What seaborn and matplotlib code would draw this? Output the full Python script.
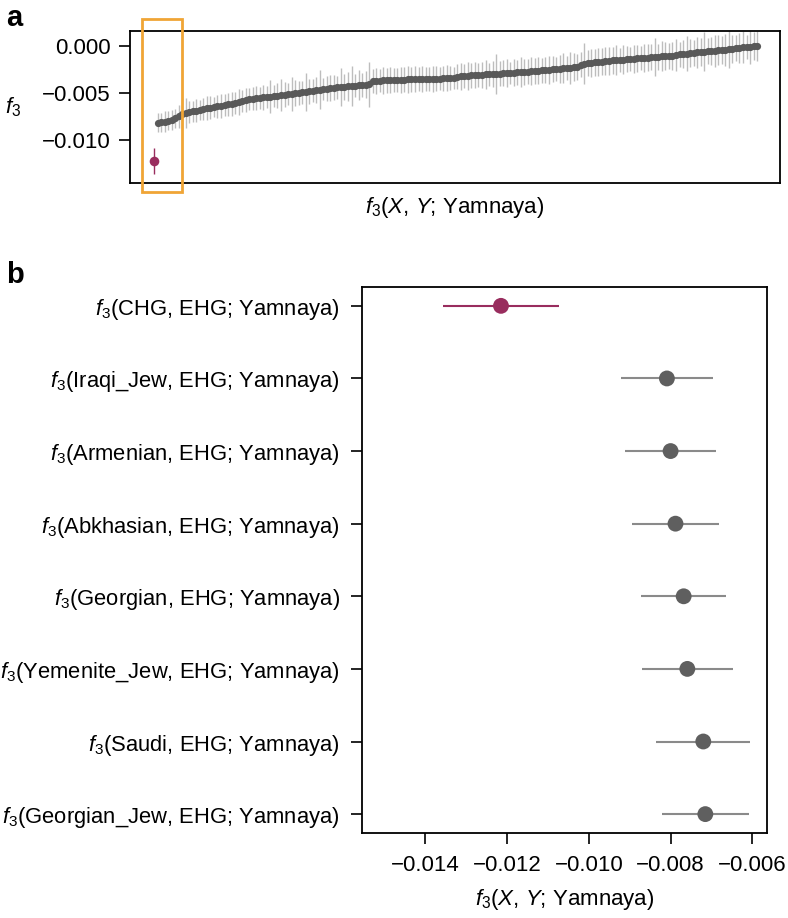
import matplotlib
matplotlib.use('Agg')
import matplotlib.pyplot as plt
import matplotlib.patches as mpatches
import seaborn as sns
import pandas as pd
import numpy as np

# panel a: sorted f3 statistics (values in units of 1e-4)
f3_chg = -122.0
f3_chg_err = 14.0
f3_others = [
    -81.6, -81.0, -80.4, -79.6, -78.8, -76.8, -75.0, -72.0, -71.0, -70.4,
    -69.6, -68.9, -68.0, -67.0, -66.0, -65.5, -64.8, -64.2, -63.6, -62.9,
    -62.2, -61.6, -60.8, -59.6, -58.4, -57.2, -56.6, -56.1, -55.6, -55.2,
    -54.7, -54.2, -53.8, -53.2, -52.8, -52.3, -51.8, -51.3, -50.8, -50.3,
    -49.8, -49.4, -48.8, -48.2, -47.6, -47.0, -46.4, -45.9, -45.3, -44.8,
    -44.3, -44.0, -43.7, -43.3, -43.0, -42.6, -42.3, -41.9, -41.5, -41.1,
    -40.8, -37.0, -36.9, -36.8, -36.6, -36.5, -36.3, -36.2, -36.0, -35.9,
    -35.8, -35.6, -35.5, -35.4, -35.3, -35.2, -35.1, -35.0, -34.9, -34.8,
    -34.6, -34.5, -34.3, -34.1, -33.9, -32.6, -32.3, -32.0, -31.7, -31.4,
    -31.1, -30.8, -30.6, -30.3, -30.1, -29.8, -29.6, -29.3, -29.1, -28.8,
    -28.6, -28.3, -28.1, -27.8, -27.6, -27.3, -26.9, -26.6, -26.2, -25.9,
    -25.5, -25.2, -24.8, -24.5, -24.1, -23.8, -23.4, -23.0, -22.6, -22.2,
    -19.8, -18.7, -18.3, -17.9, -17.5, -17.1, -16.6, -16.1, -15.6, -15.3,
    -15.0, -14.7, -14.4, -14.1, -13.8, -13.5, -13.2, -12.9, -12.6, -12.3,
    -12.0, -11.7, -11.4, -11.1, -10.8, -10.5, -10.3, -9.3, -8.9, -8.5,
    -8.1, -7.7, -7.3, -6.9, -6.5, -6.1, -5.7, -5.3, -4.9, -4.6,
    -4.2, -3.8, -3.4, -3.0, -2.5, -2.0, -1.5, -1.0, -0.6, -0.3,
    0.0,
]
f3_others_err = [
    10, 10, 11, 10, 11, 10, 12, 17, 16, 12,
    11, 12, 11, 12, 13, 12, 11, 12, 13, 12,
    12, 13, 12, 14, 12, 13, 12, 12, 13, 12,
    13, 12, 18, 12, 13, 17, 13, 12, 18, 14,
    13, 12, 20, 13, 12, 14, 21, 12, 13, 14,
    13, 12, 20, 14, 15, 21, 12, 16, 13, 14,
    24, 13, 14, 12, 14, 13, 14, 13, 13, 14,
    13, 14, 13, 14, 13, 14, 13, 13, 14, 13,
    12, 13, 14, 13, 12, 13, 14, 13, 15, 13,
    14, 13, 14, 15, 12, 14, 21, 13, 14, 15,
    12, 14, 13, 16, 14, 13, 15, 14, 14, 13,
    14, 15, 14, 13, 15, 16, 13, 17, 15, 14,
    13, 22, 14, 15, 14, 15, 14, 15, 15, 14,
    16, 13, 15, 14, 13, 15, 14, 13, 15, 14,
    14, 20, 14, 16, 15, 14, 15, 17, 13, 15,
    19, 15, 14, 16, 15, 21, 14, 15, 17, 16,
    15, 17, 20, 15, 14, 16, 17, 13, 19, 15,
    16,
]

# panel b: top statistics
populations = ['CHG', 'Iraqi_Jew', 'Armenian', 'Abkhasian', 'Georgian',
               'Yemenite_Jew', 'Saudi', 'Georgian_Jew']
f3_top = [-0.01215, -0.00809, -0.00800, -0.00788, -0.00768, -0.00759, -0.00720, -0.00715]
f3_top_err = [0.00142, 0.00112, 0.00111, 0.00107, 0.00104, 0.00112, 0.00115, 0.00106]

PINK = '#992d5e'
DARK = '#595959'
ORANGE = '#f0a535'

sns.set_style('white')
plt.rcParams['font.family'] = ['Liberation Sans', 'DejaVu Sans']
plt.rcParams['mathtext.fontset'] = 'custom'
plt.rcParams['mathtext.rm'] = 'Liberation Sans'
plt.rcParams['mathtext.it'] = 'Liberation Sans:italic'
for k in ['text.color', 'axes.labelcolor', 'xtick.color', 'ytick.color']:
    plt.rcParams[k] = 'black'

fig = plt.figure(figsize=(7.88, 9.18), dpi=100)

xlab = r'$f_3$($X$, $Y$; Yamnaya)'

# ---- panel a
ax1 = fig.add_axes([0.165, 0.8007, 0.8249, 0.1656])
scale = 1e-4
df_a = pd.DataFrame({
    'rank': np.arange(1, len(f3_others) + 1),
    'f3': np.array(f3_others) * scale,
    'err': np.array(f3_others_err) * scale,
})
ax1.errorbar(df_a['rank'], df_a['f3'], yerr=df_a['err'], fmt='none',
             ecolor='#bdbdbd', elinewidth=1.0, zorder=1)
sns.scatterplot(data=df_a, x='rank', y='f3', ax=ax1, color=DARK, s=27,
                linewidth=0, zorder=2)
ax1.errorbar([0], [f3_chg * scale], yerr=[f3_chg_err * scale], fmt='none',
             ecolor=PINK, elinewidth=1.0, zorder=1)
sns.scatterplot(x=[0], y=[f3_chg * scale], ax=ax1, color=PINK, s=48,
                linewidth=0, zorder=3)
ax1.set_xlim(-6.8, 177.5)
ax1.set_ylim(-0.01457, 0.0016)
ax1.set_xticks([])
ax1.set_yticks([0.0, -0.005, -0.010])
ax1.set_yticklabels(['0.000', '\u22120.005', '\u22120.010'])
ax1.tick_params(axis='y', length=8, width=1.2, labelsize=16, pad=6, left=True)
ax1.set_xlabel(xlab, fontsize=16, labelpad=9)
ax1.set_ylabel(r'$f_3$', fontsize=16, rotation=0, va='center')
ax1.yaxis.set_label_coords(-0.18, 0.5)
for sp in ax1.spines.values():
    sp.set_linewidth(1.3)
    sp.set_color('black')
ax1.add_patch(mpatches.Rectangle((-3.4, -0.01553), 11.3, 0.0184,
                                 fill=False, edgecolor=ORANGE, linewidth=2,
                                 clip_on=False, zorder=5))

# ---- panel b
ax2 = fig.add_axes([0.4594, 0.0926, 0.514, 0.5948])
df_b = pd.DataFrame({
    'pop': populations,
    'f3': f3_top,
    'err': f3_top_err,
    'row': np.arange(len(populations)),
})
df_b['group'] = ['CHG'] + ['other'] * (len(populations) - 1)
for _, r in df_b.iterrows():
    c = PINK if r['group'] == 'CHG' else '#8a8a8a'
    ax2.errorbar([r['f3']], [r['row']], xerr=[r['err']], fmt='none',
                 ecolor=c, elinewidth=1.5, zorder=1)
sns.scatterplot(data=df_b, x='f3', y='row', hue='group',
                palette={'CHG': PINK, 'other': '#5f5f5f'}, s=130,
                linewidth=0, legend=False, ax=ax2, zorder=2)
ax2.set_ylim(7.26, -0.26)
ax2.set_xlim(-0.01555, -0.00564)
ax2.set_yticks(df_b['row'])
ax2.set_yticklabels([r'$f_3$(' + p + ', EHG; Yamnaya)' for p in populations])
ax2.set_xticks([-0.014, -0.012, -0.010, -0.008, -0.006])
ax2.set_xticklabels(['\u22120.014', '\u22120.012', '\u22120.010', '\u22120.008', '\u22120.006'])
ax2.tick_params(axis='both', length=8, width=1.2, labelsize=16, pad=8,
                left=True, bottom=True)
ax2.tick_params(axis='y', labelsize=15.8, pad=8)
ax2.set_xlabel(xlab, fontsize=16, labelpad=8)
ax2.set_ylabel('')
for sp in ax2.spines.values():
    sp.set_linewidth(1.3)
    sp.set_color('black')

fig.text(0.008, 0.98, 'a', fontsize=21, fontweight='bold', va='center')
fig.text(0.008, 0.70, 'b', fontsize=21, fontweight='bold', va='center')

fig.savefig('out.png', dpi=100)
